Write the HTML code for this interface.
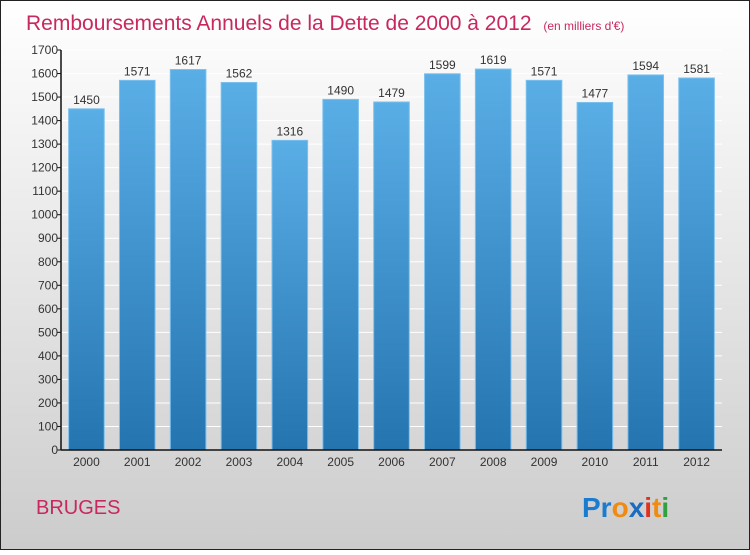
<!DOCTYPE html>
<html><head><meta charset="utf-8"><style>
body{margin:0;width:750px;height:550px;overflow:hidden;font-family:"Liberation Sans",sans-serif}
</style></head><body>
<svg width="750" height="550" xmlns="http://www.w3.org/2000/svg">
<defs>
<linearGradient id="bg" x1="0" y1="0" x2="0" y2="1"><stop offset="0" stop-color="#ffffff"/><stop offset="1" stop-color="#cccccc"/></linearGradient>
<linearGradient id="bar" x1="0" y1="0" x2="0" y2="1"><stop offset="0" stop-color="#5aaee6"/><stop offset="1" stop-color="#2474b0"/></linearGradient>
</defs>
<rect x="0.5" y="0.5" width="749" height="549" fill="url(#bg)" stroke="#222"/>
<text x="26" y="30" font-size="21" fill="#c8285e">Remboursements Annuels de la Dette de 2000 à 2012 <tspan font-size="12" dx="6">(en milliers d'€)</tspan></text>
<g id="plot"></g>
<text x="36" y="514" font-size="20" fill="#c8285e">BRUGES</text>
<g font-size="28" font-weight="bold" font-family="'Liberation Sans',sans-serif">
<text x="582" y="517"><tspan fill="#1a7cd0">Pr</tspan><tspan fill="#f08a10">o</tspan><tspan fill="#1a6cc0">x</tspan><tspan fill="#e03020">i</tspan><tspan fill="#f08a10">t</tspan><tspan fill="#30a040">i</tspan></text>
</g>
</svg>
<script>
const categories=["2000","2001","2002","2003","2004","2005","2006","2007","2008","2009","2010","2011","2012"];
const values=[1450,1571,1617,1562,1316,1490,1479,1599,1619,1571,1477,1594,1581];
const yTicks=[0,100,200,300,400,500,600,700,800,900,1000,1100,1200,1300,1400,1500,1600,1700];
const NS="http://www.w3.org/2000/svg";
const g=document.getElementById('plot');
const x0=61,x1=722,y0=450,y1=50,yMax=1700;
const band=(x1-x0)/categories.length;
const y=v=>y0-(v/yMax)*(y0-y1);
const xc=i=>x0+band*(i+0.5);
function mk(t,a){const e=document.createElementNS(NS,t);for(const k in a)e.setAttribute(k,a[k]);g.appendChild(e);return e;}
yTicks.forEach(v=>{
 const l=mk('line',{x1:x0,x2:x1,y1:y(v),y2:y(v),stroke:'#ffffff','stroke-width':1});
 
 
});
values.forEach((v,i)=>{
 const w=band*0.7;
 const r=mk('rect',{x:xc(i)-w/2,y:y(v),width:w,height:y0-y(v),fill:'url(#bar)',stroke:'#7cc0ee','stroke-width':1});
 
 
 const t=mk('text',{x:xc(i),y:y(v)-5,'text-anchor':'middle','font-size':12,fill:'#333'});
 t.textContent=v;
 
 
 const c=mk('text',{x:xc(i),y:y0+16,'text-anchor':'middle','font-size':12,fill:'#333'});
 c.textContent=categories[i];
 
 
});
yTicks.forEach(v=>{
 const tk=mk('line',{x1:x0-4,x2:x0,y1:y(v),y2:y(v),stroke:'#111'});
 
 
 const t=mk('text',{x:x0-3,y:y(v)+4,'text-anchor':'end','font-size':12,fill:'#333'});
 t.textContent=v;
 
 
});
const ya=mk('line',{x1:x0,x2:x0,y1:y1,y2:y0,stroke:'#111','stroke-width':1.5});


const xa=mk('line',{x1:x0,x2:x1,y1:y0,y2:y0,stroke:'#111','stroke-width':1.5});


</script>
</body></html>
